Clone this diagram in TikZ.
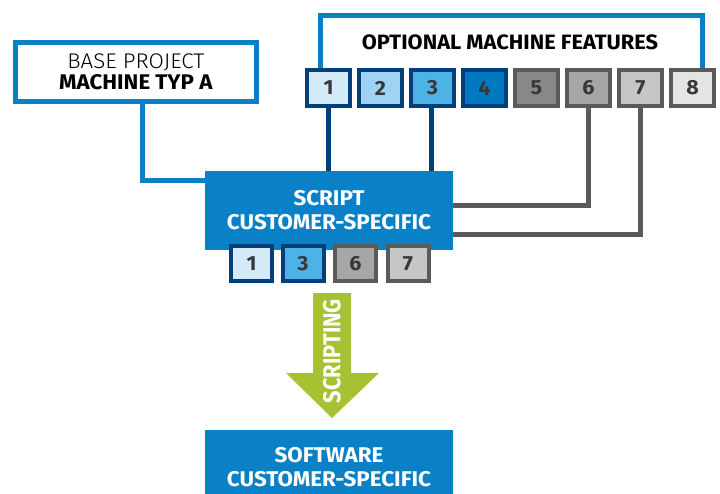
\documentclass[tikz,border=0pt]{standalone}
\usepackage{fontspec}
\setmainfont{Fira Sans}[FakeStretch=1.05]
\newfontfamily\lightf{Fira Sans Light}[FakeStretch=1.05]
\newfontfamily\condf{Fira Sans}[FakeStretch=0.89]
\usetikzlibrary{calc}
\definecolor{mblue}{HTML}{0A80C6}
\definecolor{navy}{HTML}{003F7A}
\definecolor{dgray}{HTML}{5A5A5A}
\definecolor{numgray}{HTML}{383838}
\definecolor{lgreen}{HTML}{A6C232}
\definecolor{fa}{HTML}{D3EAF9}
\definecolor{fb}{HTML}{9FD3F4}
\definecolor{fc}{HTML}{4DB2E6}
\definecolor{fd}{HTML}{0079C1}
\definecolor{fe}{HTML}{888888}
\definecolor{ff}{HTML}{A6A6A6}
\definecolor{fg}{HTML}{C6C6C6}
\definecolor{fh}{HTML}{E4E4E4}
\begin{document}
\begin{tikzpicture}[x=1pt,y=-1pt,
  feat/.style={draw, line width=4pt, minimum width=43pt, minimum height=36pt, inner sep=0pt,
    font=\fontsize{20.5}{20}\selectfont\bfseries, text=numgray},
  bfeat/.style={feat, draw=navy},
  gfeat/.style={feat, draw=dgray},
  sfeat/.style={feat, minimum width=41pt, minimum height=35pt},
  bigbox/.style={fill=mblue, text=white, align=center, inner sep=0pt,
    minimum width=248pt, font=\fontsize{21.3}{24}\selectfont\bfseries},
  blueline/.style={draw=mblue, line width=5pt},
  navyline/.style={draw=navy, line width=5pt},
  grayline/.style={draw=dgray, line width=5pt}]
\useasboundingbox (0,0) rectangle (720,493);
\clip (0,0) rectangle (720,493);
% base project
\node[draw=mblue, line width=5pt, fill=white, minimum width=241pt, minimum height=59pt,
  inner sep=0pt, align=center, font=\fontsize{21.2}{20.5}\selectfont] (base) at (136,72)
  {{\lightf BASE PROJECT}\\\textbf{MACHINE TYP A}};
% optional features
\node[font=\fontsize{20.8}{20}\selectfont\bfseries] (title) at (510,42) {OPTIONAL MACHINE FEATURES};
\node[bfeat, fill=fa] (f1) at (328.5,88) {1};
\node[bfeat, fill=fb] (f2) at (380.5,88) {2};
\node[bfeat, fill=fc] (f3) at (432.5,88) {3};
\node[bfeat, fill=fd] (f4) at (484.5,88) {4};
\node[gfeat, fill=fe] (f5) at (536.5,88) {5};
\node[gfeat, fill=ff] (f6) at (588.5,88) {6};
\node[gfeat, fill=fg] (f7) at (640.5,88) {7};
\node[gfeat, fill=fh] (f8) at (692.5,88) {8};
\coordinate (tl) at (320,15);
\coordinate (tr) at (702,15);
% script box
\node[bigbox, minimum height=79pt] (script) at (329,210.5) {SCRIPT\\CUSTOMER-SPECIFIC};
% connectors
\draw[blueline] ($(base.south)+(6,0)$) |- ($(script.north west)+(0,9.5)$);
\draw[blueline] (f1.north -| tl) -- (tl) -- (tr) -- (tr |- f8.north);
\draw[navyline] (f1.south) -- (f1.south |- script.north);
\draw[navyline] ($(f3.south)+(-1.5,0)$) -- ($(f3.south |- script.north)+(-1.5,0)$);
\coordinate (g6) at (588.5,205);
\coordinate (g7) at (640.5,234);
\draw[grayline] (f6.south) -- (g6) -- (g6 -| script.east);
\draw[grayline] (f7.south) -- (g7) -- (g7 -| script.east);
% selected features
\node[sfeat, draw=navy, fill=fa] (s1) at (251.5,263.5) {1};
\node[sfeat, draw=navy, fill=fc] (s3) at (303,263.5) {3};
\node[sfeat, draw=dgray, fill=ff] (s6) at (355.5,263.5) {6};
\node[sfeat, draw=dgray, fill=fg] (s7) at (408,263.5) {7};
% software box
\node[bigbox, minimum height=74pt] (soft) at (329,467) {SOFTWARE\\CUSTOMER-SPECIFIC};
% scripting arrow
\fill[lgreen] (313,293) -- (351,293) -- (351,373) -- (379,373) -- (332,418) -- (286,373) -- (313,373) -- cycle;
\node[rotate=90, text=white, font=\fontsize{24.5}{24}\selectfont\condf\bfseries] (scr) at (332,351) {SCRIPTING};
\end{tikzpicture}
\end{document}
